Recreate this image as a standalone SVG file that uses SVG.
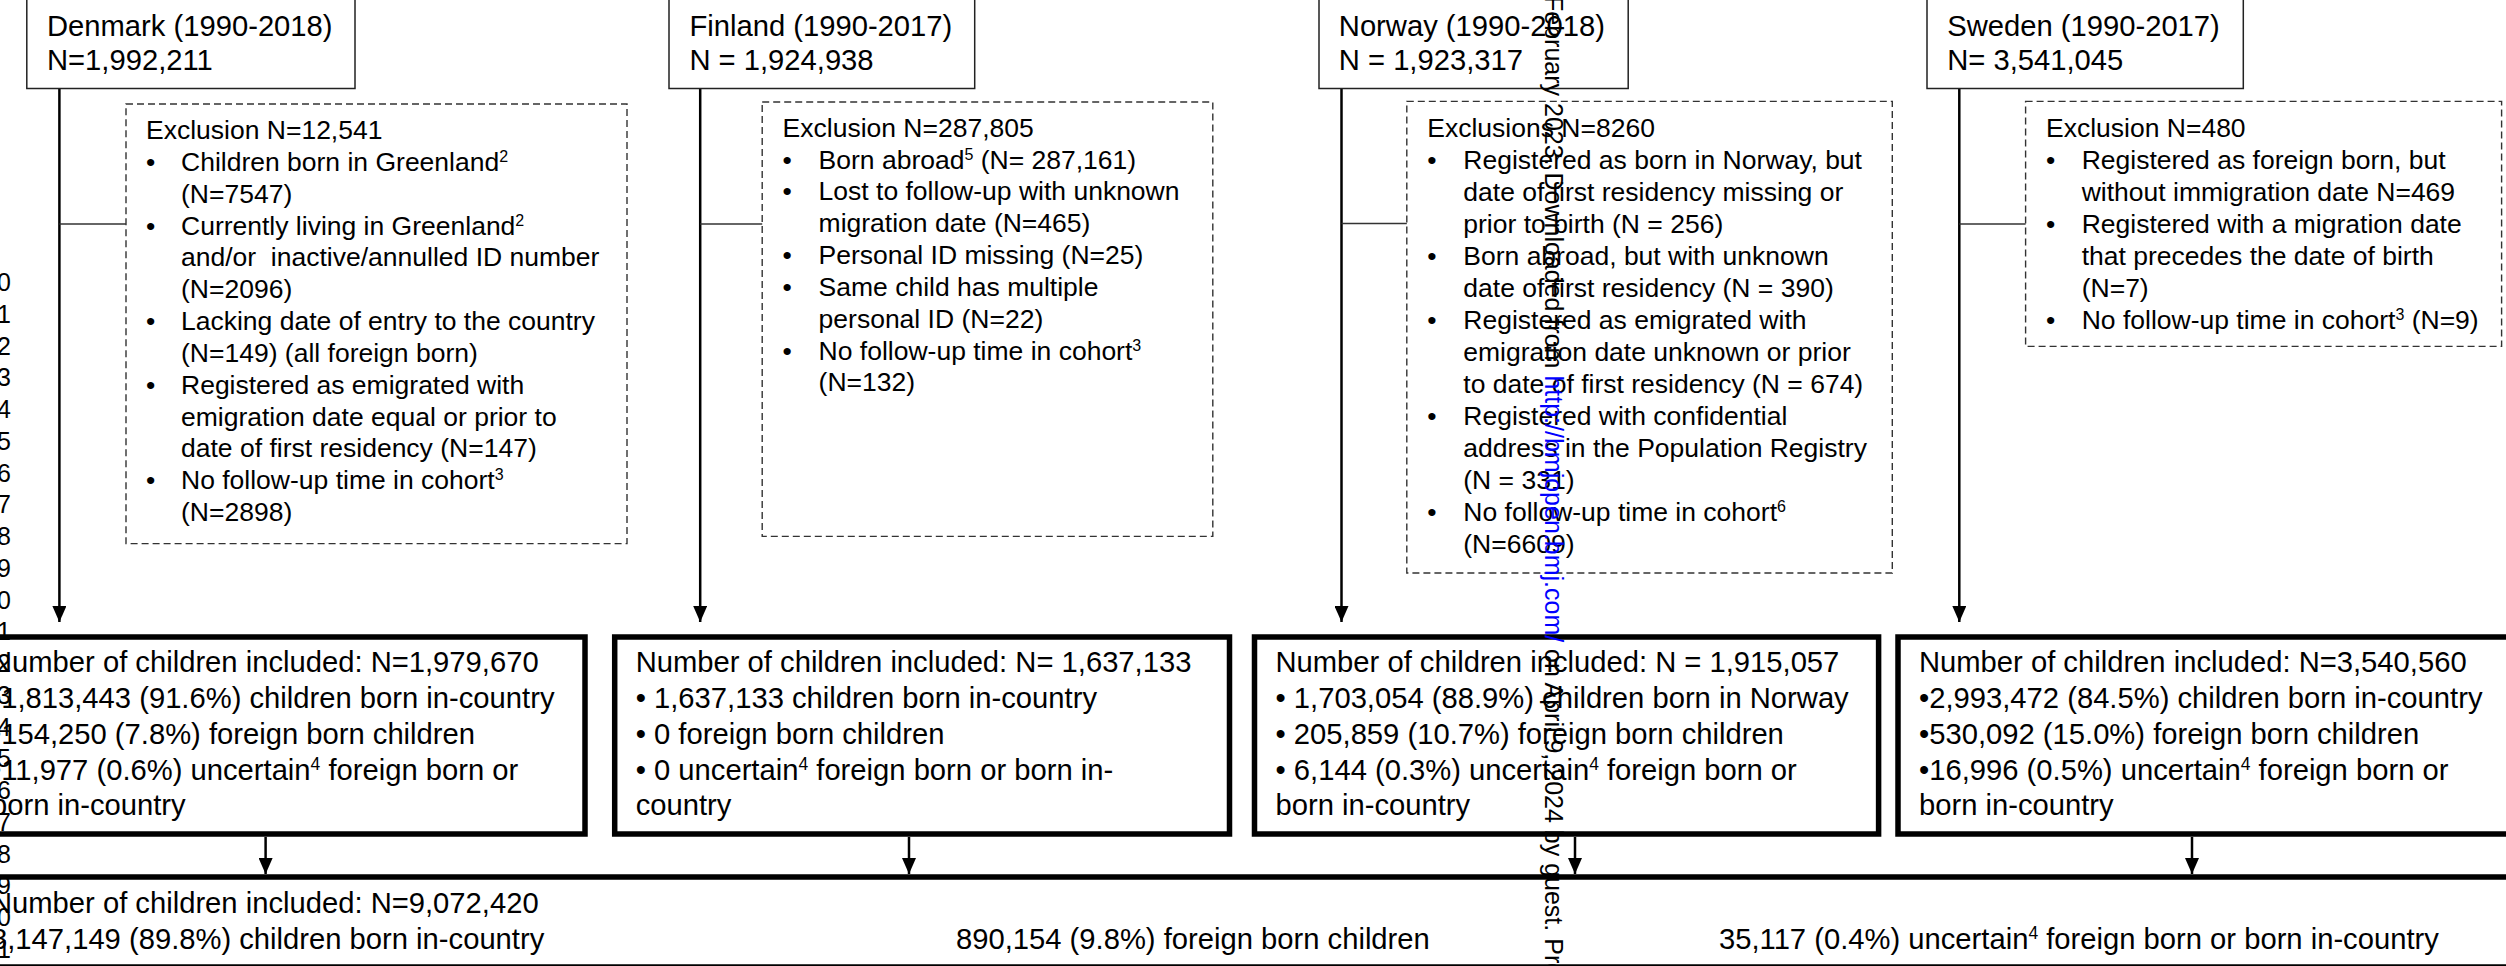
<svg xmlns="http://www.w3.org/2000/svg" width="2506" height="966" viewBox="0 0 2506 966">
<defs>
<style>
text { font-family: "Liberation Sans", Arial, sans-serif; fill: #000; }
.hd { font-size: 29.2px; }
.rs { font-size: 29.2px; }
.ex { font-size: 26.5px; }
.ln { font-size: 25px; text-anchor: end; }
.wm { font-size: 25px; }
.url { fill: #0000ff; }
.hbox { fill: #fff; stroke: #222; stroke-width: 1.5; }
.dbox { fill: none; stroke: #333; stroke-width: 1.4; stroke-dasharray: 7 4; }
.rbox { fill: none; stroke: #000; stroke-width: 5.5; }
.vline { stroke: #000; stroke-width: 2.5; fill: none; }
.hline { stroke: #333; stroke-width: 1.5; fill: none; }
</style>
<marker id="ah" markerUnits="userSpaceOnUse" markerWidth="16" markerHeight="14" refX="16" refY="7" orient="auto">
<path d="M0,0 L16,7 L0,14 z" fill="#000"/>
</marker>
</defs>
<rect x="0" y="0" width="2506" height="966" fill="#fff"/>

<g id="line-numbers">
<text class="ln" x="11" y="291">0</text>
<text class="ln" x="11" y="322.75">1</text>
<text class="ln" x="11" y="354.5">2</text>
<text class="ln" x="11" y="386.25">3</text>
<text class="ln" x="11" y="418">4</text>
<text class="ln" x="11" y="449.75">5</text>
<text class="ln" x="11" y="481.5">6</text>
<text class="ln" x="11" y="513.25">7</text>
<text class="ln" x="11" y="545">8</text>
<text class="ln" x="11" y="576.75">9</text>
<text class="ln" x="11" y="608.5">0</text>
<text class="ln" x="11" y="640.25">1</text>
<text class="ln" x="11" y="672">2</text>
<text class="ln" x="11" y="703.75">3</text>
<text class="ln" x="11" y="735.5">4</text>
<text class="ln" x="11" y="767.25">5</text>
<text class="ln" x="11" y="799">6</text>
<text class="ln" x="11" y="830.75">7</text>
<text class="ln" x="11" y="862.5">8</text>
<text class="ln" x="11" y="894.25">9</text>
<text class="ln" x="11" y="926">0</text>
<text class="ln" x="11" y="957.75">1</text>
</g>

<g id="connectors">
<line class="vline" x1="59.4" y1="88.5" x2="59.4" y2="622" marker-end="url(#ah)"/>
<line class="vline" x1="700.2" y1="88.5" x2="700.2" y2="622" marker-end="url(#ah)"/>
<line class="vline" x1="1341.5" y1="88.5" x2="1341.5" y2="622" marker-end="url(#ah)"/>
<line class="vline" x1="1959.3" y1="88.5" x2="1959.3" y2="622" marker-end="url(#ah)"/>
<line class="hline" x1="59.4" y1="224" x2="126" y2="224"/>
<line class="hline" x1="700.2" y1="224" x2="762.2" y2="224"/>
<line class="hline" x1="1341.5" y1="223.5" x2="1406.8" y2="223.5"/>
<line class="hline" x1="1959.3" y1="224" x2="2025.6" y2="224"/>
<line class="vline" x1="265.6" y1="837" x2="265.6" y2="874" marker-end="url(#ah)"/>
<line class="vline" x1="909" y1="837" x2="909" y2="874" marker-end="url(#ah)"/>
<line class="vline" x1="1575" y1="837" x2="1575" y2="874" marker-end="url(#ah)"/>
<line class="vline" x1="2192" y1="837" x2="2192" y2="874" marker-end="url(#ah)"/>
</g>

<g id="denmark-header">
<rect class="hbox" x="26.8" y="-10" width="328.2" height="98.5"/>
<text class="hd" x="47" y="36">Denmark (1990-2018)</text>
<text class="hd" x="47" y="70">N=1,992,211</text>
</g>
<g id="finland-header">
<rect class="hbox" x="669" y="-10" width="305.7" height="98.5"/>
<text class="hd" x="689.4" y="36">Finland (1990-2017)</text>
<text class="hd" x="689.4" y="70">N = 1,924,938</text>
</g>
<g id="norway-header">
<rect class="hbox" x="1319" y="-10" width="309.2" height="98.5"/>
<text class="hd" x="1338.8" y="36">Norway (1990-2018)</text>
<text class="hd" x="1338.8" y="70">N = 1,923,317</text>
</g>
<g id="sweden-header">
<rect class="hbox" x="1927" y="-10" width="316.3" height="98.5"/>
<text class="hd" x="1947.2" y="36">Sweden (1990-2017)</text>
<text class="hd" x="1947.2" y="70">N= 3,541,045</text>
</g>

<g id="denmark-exclusion">
<rect class="dbox" x="126" y="104" width="501" height="439.6"/>
<text class="ex">
<tspan x="146" y="139">Exclusion N=12,541</tspan>
<tspan x="146" y="171">•</tspan><tspan x="181" y="171">Children born in Greenland<tspan font-size="16" baseline-shift="9">2</tspan></tspan>
<tspan x="181" y="203">(N=7547)</tspan>
<tspan x="146" y="235">•</tspan><tspan x="181" y="235">Currently living in Greenland<tspan font-size="16" baseline-shift="9">2</tspan></tspan>
<tspan x="181" y="266">and/or&#160; inactive/annulled ID number</tspan>
<tspan x="181" y="298">(N=2096)</tspan>
<tspan x="146" y="330">•</tspan><tspan x="181" y="330">Lacking date of entry to the country</tspan>
<tspan x="181" y="362">(N=149) (all foreign born)</tspan>
<tspan x="146" y="394">•</tspan><tspan x="181" y="394">Registered as emigrated with</tspan>
<tspan x="181" y="426">emigration date equal or prior to</tspan>
<tspan x="181" y="457">date of first residency (N=147)</tspan>
<tspan x="146" y="489">•</tspan><tspan x="181" y="489">No follow-up time in cohort<tspan font-size="16" baseline-shift="9">3</tspan></tspan>
<tspan x="181" y="521">(N=2898)</tspan>
</text>
</g>

<g id="finland-exclusion">
<rect class="dbox" x="762.2" y="102" width="450.6" height="434.4"/>
<text class="ex">
<tspan x="782.6" y="137">Exclusion N=287,805</tspan>
<tspan x="782.6" y="169">•</tspan><tspan x="818.6" y="169">Born abroad<tspan font-size="16" baseline-shift="9">5</tspan> (N= 287,161)</tspan>
<tspan x="782.6" y="200">•</tspan><tspan x="818.6" y="200">Lost to follow-up with unknown</tspan>
<tspan x="818.6" y="232">migration date (N=465)</tspan>
<tspan x="782.6" y="264">•</tspan><tspan x="818.6" y="264">Personal ID missing (N=25)</tspan>
<tspan x="782.6" y="296">•</tspan><tspan x="818.6" y="296">Same child has multiple</tspan>
<tspan x="818.6" y="328">personal ID (N=22)</tspan>
<tspan x="782.6" y="360">•</tspan><tspan x="818.6" y="360">No follow-up time in cohort<tspan font-size="16" baseline-shift="9">3</tspan></tspan>
<tspan x="818.6" y="391">(N=132)</tspan>
</text>
</g>

<g id="norway-exclusion">
<rect class="dbox" x="1406.8" y="101.4" width="485.5" height="471.6"/>
<text class="ex">
<tspan x="1427.3" y="137">Exclusions N=8260</tspan>
<tspan x="1427.3" y="169">•</tspan><tspan x="1463.3" y="169">Registered as born in Norway, but</tspan>
<tspan x="1463.3" y="201">date of first residency missing or</tspan>
<tspan x="1463.3" y="233">prior to birth (N = 256)</tspan>
<tspan x="1427.3" y="265">•</tspan><tspan x="1463.3" y="265">Born abroad, but with unknown</tspan>
<tspan x="1463.3" y="297">date of first residency (N = 390)</tspan>
<tspan x="1427.3" y="329">•</tspan><tspan x="1463.3" y="329">Registered as emigrated with</tspan>
<tspan x="1463.3" y="361">emigration date unknown or prior</tspan>
<tspan x="1463.3" y="393">to date of first residency (N = 674)</tspan>
<tspan x="1427.3" y="425">•</tspan><tspan x="1463.3" y="425">Registered with confidential</tspan>
<tspan x="1463.3" y="457">address in the Population Registry</tspan>
<tspan x="1463.3" y="489">(N = 331)</tspan>
<tspan x="1427.3" y="521">•</tspan><tspan x="1463.3" y="521">No follow-up time in cohort<tspan font-size="16" baseline-shift="9">6</tspan></tspan>
<tspan x="1463.3" y="553">(N=6609)</tspan>
</text>
</g>

<g id="sweden-exclusion">
<rect class="dbox" x="2025.6" y="101.4" width="476" height="245"/>
<text class="ex">
<tspan x="2046" y="137">Exclusion N=480</tspan>
<tspan x="2046" y="169">•</tspan><tspan x="2081.7" y="169">Registered as foreign born, but</tspan>
<tspan x="2081.7" y="201">without immigration date N=469</tspan>
<tspan x="2046" y="233">•</tspan><tspan x="2081.7" y="233">Registered with a migration date</tspan>
<tspan x="2081.7" y="265">that precedes the date of birth</tspan>
<tspan x="2081.7" y="297">(N=7)</tspan>
<tspan x="2046" y="329">•</tspan><tspan x="2081.7" y="329">No follow-up time in cohort<tspan font-size="16" baseline-shift="9">3</tspan> (N=9)</tspan>
</text>
</g>

<g id="denmark-included">
<rect class="rbox" x="-30" y="637" width="615" height="197"/>
<text class="rs">
<tspan x="-9" y="672">Number of children included: N=1,979,670</tspan>
<tspan x="-9" y="708">•1,813,443 (91.6%) children born in-country</tspan>
<tspan x="-9" y="744">•154,250 (7.8%) foreign born children</tspan>
<tspan x="-9" y="780">•11,977 (0.6%) uncertain<tspan font-size="17.5" baseline-shift="10">4</tspan> foreign born or</tspan>
<tspan x="-9" y="815">born in-country</tspan>
</text>
</g>

<g id="finland-included">
<rect class="rbox" x="614.7" y="637" width="614.8" height="197"/>
<text class="rs">
<tspan x="635.7" y="672">Number of children included: N= 1,637,133</tspan>
<tspan x="635.7" y="708">• 1,637,133 children born in-country</tspan>
<tspan x="635.7" y="744">• 0 foreign born children</tspan>
<tspan x="635.7" y="780">• 0 uncertain<tspan font-size="17.5" baseline-shift="10">4</tspan> foreign born or born in-</tspan>
<tspan x="635.7" y="815">country</tspan>
</text>
</g>

<g id="norway-included">
<rect class="rbox" x="1254.5" y="637" width="624.1" height="197"/>
<text class="rs">
<tspan x="1275.5" y="672">Number of children included: N = 1,915,057</tspan>
<tspan x="1275.5" y="708">• 1,703,054 (88.9%) children born in Norway</tspan>
<tspan x="1275.5" y="744">• 205,859 (10.7%) foreign born children</tspan>
<tspan x="1275.5" y="780">• 6,144 (0.3%) uncertain<tspan font-size="17.5" baseline-shift="10">4</tspan> foreign born or</tspan>
<tspan x="1275.5" y="815">born in-country</tspan>
</text>
</g>

<g id="sweden-included">
<rect class="rbox" x="1898" y="637" width="700" height="197"/>
<text class="rs">
<tspan x="1919" y="672">Number of children included: N=3,540,560</tspan>
<tspan x="1919" y="708">•2,993,472 (84.5%) children born in-country</tspan>
<tspan x="1919" y="744">•530,092 (15.0%) foreign born children</tspan>
<tspan x="1919" y="780">•16,996 (0.5%) uncertain<tspan font-size="17.5" baseline-shift="10">4</tspan> foreign born or</tspan>
<tspan x="1919" y="815">born in-country</tspan>
</text>
</g>

<g id="total-included">
<rect class="rbox" x="-20" y="877" width="2560" height="90"/>
<text class="rs">
<tspan x="-9" y="913">Number of children included: N=9,072,420</tspan>
<tspan x="-9" y="949">8,147,149 (89.8%) children born in-country</tspan>
<tspan x="956" y="949">890,154 (9.8%) foreign born children</tspan>
<tspan x="1719" y="949">35,117 (0.4%) uncertain<tspan font-size="17.5" baseline-shift="10">4</tspan> foreign born or born in-country</tspan>
</text>
</g>

<g id="watermark">
<text class="wm" transform="translate(1545,-4) rotate(90)">February 2023. Downloaded from <tspan class="url">http://bmjopen.bmj.com/</tspan> on April 9, 2024 by guest. Protected by copyright.</text>
</g>
</svg>
